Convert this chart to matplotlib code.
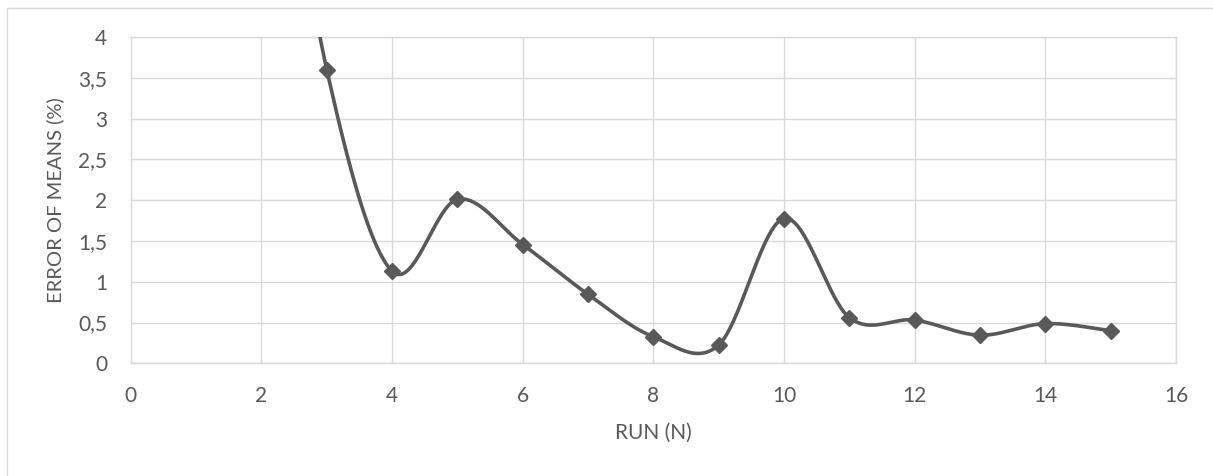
import matplotlib.pyplot as plt
import numpy as np
from matplotlib.patches import Rectangle

# run number and error of means (%)
runs = [2, 3, 4, 5, 6, 7, 8, 9, 10, 11, 12, 13, 14, 15]
error = [8.3, 3.6, 1.13, 2.01, 1.456, 0.845, 0.325, 0.225, 1.775, 0.56, 0.53, 0.345, 0.487, 0.40]

x_ticks = [0, 2, 4, 6, 8, 10, 12, 14, 16]
y_ticks = [0, 0.5, 1, 1.5, 2, 2.5, 3, 3.5, 4]
y_labels = ['0', '0,5', '1', '1,5', '2', '2,5', '3', '3,5', '4']

grey = '#595959'
grid = '#d9d9d9'


def smooth(xs, ys, n=40):
    # excel-like smoothed line (catmull-rom as cubic bezier)
    p = np.column_stack([xs, ys]).astype(float)
    p = np.vstack([p[0], p, p[-1]])
    out = []
    t = np.linspace(0, 1, n)[:, None]
    for i in range(1, len(p) - 2):
        b0 = p[i]
        b1 = p[i] + (p[i + 1] - p[i - 1]) / 6
        b2 = p[i + 1] - (p[i + 2] - p[i]) / 6
        b3 = p[i + 1]
        seg = ((1 - t) ** 3) * b0 + 3 * ((1 - t) ** 2) * t * b1 + 3 * (1 - t) * t ** 2 * b2 + t ** 3 * b3
        out.append(seg)
    out = np.vstack(out)
    return out[:, 0], out[:, 1]


plt.rcParams['font.family'] = ['Lato', 'DejaVu Sans']

fig = plt.figure(figsize=(12.13, 4.76), dpi=100)
fig.patches.append(Rectangle((7 / 1213, -0.1), 1.2, 1.1 - 8 / 476, transform=fig.transFigure,
                             fill=False, edgecolor=grid, linewidth=1.0))

ax = fig.add_axes([130.8 / 1213, 1 - 363.3 / 476, (1176 - 130.8) / 1213, (363.3 - 37) / 476])

sx, sy = smooth(runs, error)
ax.plot(sx, sy, color=grey, linewidth=2.6, solid_capstyle='round', zorder=3)
ax.plot(runs, error, linestyle='none', marker='D', markersize=8, color=grey, zorder=4)

ax.set_xlim(0, 16)
ax.set_ylim(0, 4)
ax.set_xticks(x_ticks)
ax.set_yticks(y_ticks)
ax.set_yticklabels(y_labels)
ax.grid(True, color=grid, linewidth=1.0)
ax.set_axisbelow(True)
for s in ax.spines.values():
    s.set_color(grid)
    s.set_linewidth(1.0)
ax.tick_params(length=0, labelsize=15, labelcolor=grey)
ax.tick_params(axis='y', pad=17)
ax.tick_params(axis='x', pad=16)

fig.text(653 / 1213, 1 - 433 / 476, 'RUN (N)', fontsize=15, color=grey, ha='center', va='center')
fig.text(55 / 1213, 1 - 200 / 476, 'ERROR OF MEANS (%)', fontsize=14.5, color=grey,
         ha='center', va='center', rotation=90)

fig.savefig('out.png', dpi=100)
